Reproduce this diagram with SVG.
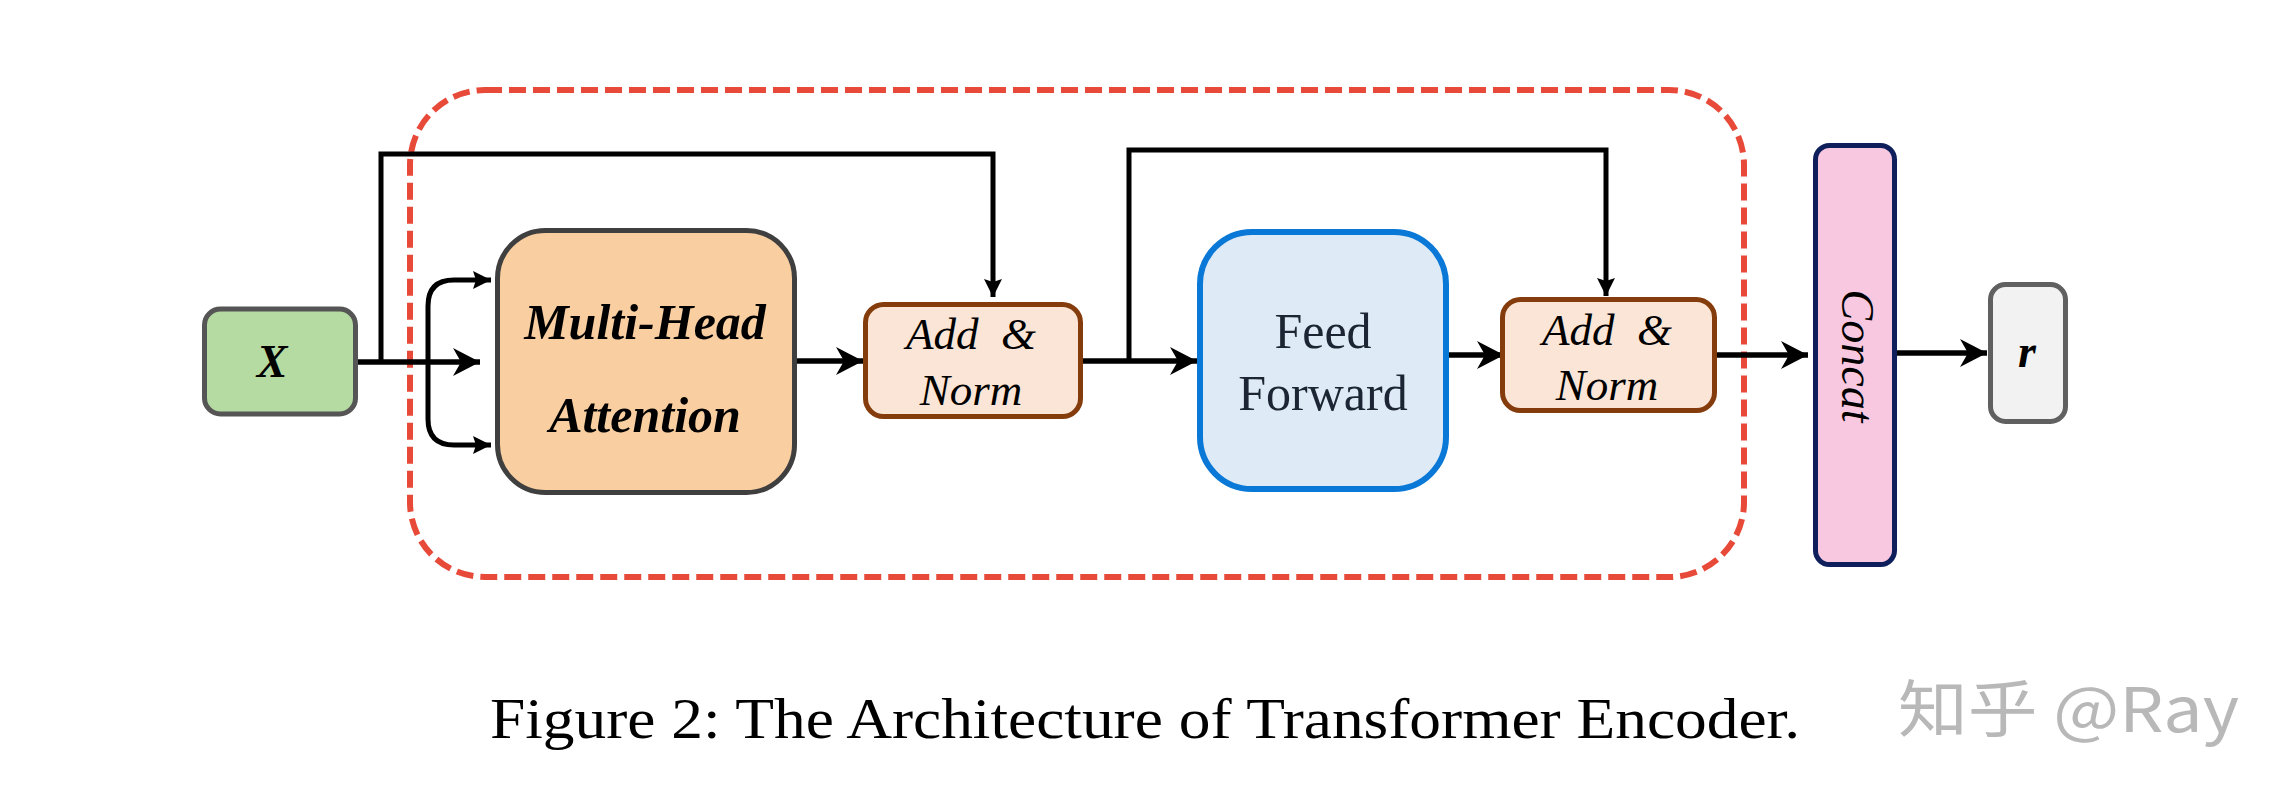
<svg xmlns="http://www.w3.org/2000/svg" width="2296" height="806" viewBox="0 0 2296 806">
<style>
.conn{fill:none;stroke:#000;stroke-linejoin:miter}
.main{stroke-width:5.5}
.thin{stroke-width:5}
.serif{font-family:"Liberation Serif","Times New Roman",serif}
.bi{font-weight:bold;font-style:italic}
.it{font-style:italic}
</style>
<defs>
<marker id="big" markerUnits="userSpaceOnUse" markerWidth="30" markerHeight="30" refX="27" refY="14" orient="auto" viewBox="0 0 30 30">
<path d="M0,0 L27,14 L0,28 L8,14 Z" fill="#000"/>
</marker>
<marker id="small" markerUnits="userSpaceOnUse" markerWidth="22" markerHeight="22" refX="18" refY="9" orient="auto" viewBox="0 0 22 22">
<path d="M0,0 L18,9 L0,18 L3,9 Z" fill="#000"/>
</marker>
</defs>
<rect width="2296" height="806" fill="#fff"/>

<g id="encoder-frame">
<rect x="410" y="90" width="1334" height="487" rx="75" ry="75" fill="none" stroke="#e84a3a" stroke-width="6" stroke-dasharray="17 7"/>
</g>

<g id="connectors">
<path class="conn main" d="M358,362 H480" marker-end="url(#big)"/>
<path class="conn thin" d="M381,362 V154 H993 V297" marker-end="url(#small)"/>
<path class="conn thin" d="M428,362 V306 Q428,280 454,280 H491" marker-end="url(#small)"/>
<path class="conn thin" d="M428,362 V419 Q428,445 454,445 H491" marker-end="url(#small)"/>
<path class="conn main" d="M797,361 H863" marker-end="url(#big)"/>
<path class="conn main" d="M1083,361 H1197" marker-end="url(#big)"/>
<path class="conn thin" d="M1129,359 V150 H1606 V296" marker-end="url(#small)"/>
<path class="conn main" d="M1442,355 H1504" marker-end="url(#big)"/>
<path class="conn main" d="M1717,355 H1808" marker-end="url(#big)"/>
<path class="conn main" d="M1897,353 H1987" marker-end="url(#big)"/>
</g>

<g id="node-x">
<rect x="204.5" y="309" width="151" height="105" rx="16" fill="#b6dba2" stroke="#555" stroke-width="5"/>
<text x="272" y="377" class="serif bi" font-size="46" text-anchor="middle" fill="#000">X</text>
</g>

<g id="node-mha">
<rect x="497.5" y="230.5" width="297" height="262" rx="48" fill="#f9cea0" stroke="#3f3f3f" stroke-width="5"/>
<text x="645" y="339" class="serif bi" font-size="50" text-anchor="middle" fill="#000">Multi-Head</text>
<text x="645" y="432" class="serif bi" font-size="50" text-anchor="middle" fill="#000">Attention</text>
</g>

<g id="node-addnorm1">
<rect x="865.5" y="304.5" width="215" height="112" rx="18" fill="#fbe5d6" stroke="#843c0c" stroke-width="5"/>
<text x="971" y="349" class="serif it" font-size="45" text-anchor="middle" fill="#000" xml:space="preserve">Add  &amp;</text>
<text x="971" y="405" class="serif it" font-size="45" text-anchor="middle" fill="#000">Norm</text>
</g>

<g id="node-ff">
<rect x="1200" y="232" width="246" height="257" rx="52" fill="#deeaf6" stroke="#0a78d6" stroke-width="6"/>
<text x="1323" y="348" class="serif" font-size="50" text-anchor="middle" fill="#1c2533">Feed</text>
<text x="1323" y="410" class="serif" font-size="50" text-anchor="middle" fill="#1c2533">Forward</text>
</g>

<g id="node-addnorm2">
<rect x="1502.5" y="299.5" width="212" height="111" rx="18" fill="#fbe5d6" stroke="#843c0c" stroke-width="5"/>
<text x="1607" y="345" class="serif it" font-size="45" text-anchor="middle" fill="#000" xml:space="preserve">Add  &amp;</text>
<text x="1607" y="400" class="serif it" font-size="45" text-anchor="middle" fill="#000">Norm</text>
</g>

<g id="node-concat">
<rect x="1815.5" y="145.5" width="79" height="419" rx="14" fill="#f7c8df" stroke="#0e1f5b" stroke-width="5"/>
<text transform="translate(1857,356) rotate(90)" x="0" y="15" class="serif it" font-size="46" text-anchor="middle" fill="#000">Concat</text>
</g>

<g id="node-r">
<rect x="1990.5" y="284.5" width="75" height="137" rx="15" fill="#f2f2f2" stroke="#606060" stroke-width="5"/>
<text x="2027" y="367" class="serif bi" font-size="46" text-anchor="middle" fill="#000">r</text>
</g>

<g id="caption">
<text x="490" y="738" class="serif" font-size="57" textLength="1310" lengthAdjust="spacingAndGlyphs" fill="#000">Figure 2: The Architecture of Transformer Encoder.</text>
</g>

<g id="watermark">
<text x="1898" y="732" font-family="'Noto Sans CJK SC','Noto Sans',sans-serif" font-size="62" textLength="341" lengthAdjust="spacingAndGlyphs" fill="#b8b8b8">知乎 @Ray</text>
</g>
</svg>
